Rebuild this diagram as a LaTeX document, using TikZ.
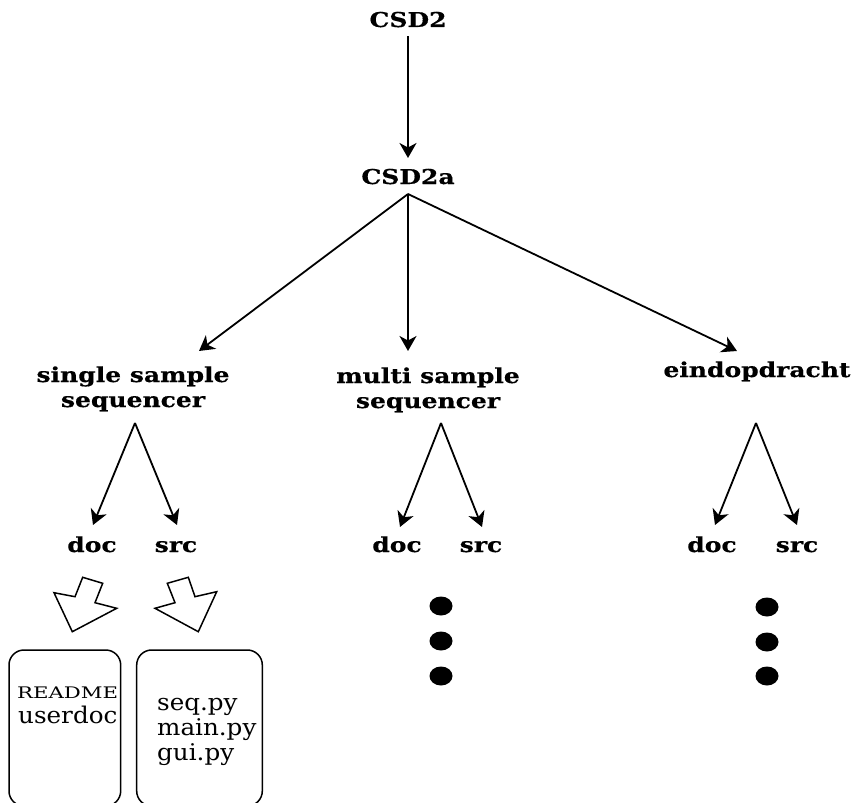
\documentclass[tikz,border=0pt]{standalone}
\usepackage{fontspec}
\usepackage{graphicx}
\setmainfont{DejaVu Serif}
\newfontfamily\lblfont{DejaVu Serif}[FakeStretch=1.22,FakeBold=0.5]
\newfontfamily\filefont{DejaVu Serif}[FakeStretch=1.07]
\usetikzlibrary{arrows.meta}
\begin{document}
\begin{tikzpicture}[x=1pt,y=-1pt,
  arr/.style={line width=1.8pt,-{Stealth[length=15pt,width=17pt,inset=4.5pt]}},
  lbl/.style={font=\lblfont\fontsize{20.5}{25}\selectfont\bfseries, inner sep=0pt, anchor=base, align=center},
  file/.style={font=\filefont\fontsize{23}{25}\selectfont, inner sep=0pt, anchor=base west, align=left},
  box/.style={draw, line width=1.5pt, rounded corners=15pt},
  blk/.style={draw, line width=1.5pt, line join=miter},
  blob/.style={fill=black}]
\clip (0,0) rectangle (855,803);
% labels
\node[lbl] (csd2) at (408,27) {CSD2};
\node[lbl] (csd2a) at (408,184) {CSD2a};
\node[lbl] (ss) at (133,407) {single sample\\sequencer};
\node[lbl] (ms) at (428,408) {multi sample\\sequencer};
\node[lbl] (ein) at (757,377) {eindopdracht};
\node[lbl] (ssdoc) at (92,552) {doc};
\node[lbl] (sssrc) at (176,552) {src};
\node[lbl] (msdoc) at (397,552) {doc};
\node[lbl] (mssrc) at (481,552) {src};
\node[lbl] (eindoc) at (712,552) {doc};
\node[lbl] (einsrc) at (797,552) {src};
% connector end points
\coordinate (csd2out) at (408,36);
\coordinate (csd2ain) at (408,158);
\coordinate (csd2aout) at (408,194);
\coordinate (ssin) at (199,351);
\coordinate (msin) at (408,351);
\coordinate (einin) at (737,351);
\coordinate (ssout) at (135,423);
\coordinate (ssdocin) at (93,525);
\coordinate (sssrcin) at (177,525);
\coordinate (msout) at (441,423);
\coordinate (msdocin) at (400,527);
\coordinate (mssrcin) at (482,527);
\coordinate (einout) at (756,423);
\coordinate (eindocin) at (715,525);
\coordinate (einsrcin) at (797,525);
% connectors
\draw[arr] (csd2out) -- (csd2ain);
\draw[arr] (csd2aout) -- (ssin);
\draw[arr] (csd2aout) -- (msin);
\draw[arr] (csd2aout) -- (einin);
\draw[arr] (ssout) -- (ssdocin);
\draw[arr] (ssout) -- (sssrcin);
\draw[arr] (msout) -- (msdocin);
\draw[arr] (msout) -- (mssrcin);
\draw[arr] (einout) -- (eindocin);
\draw[arr] (einout) -- (einsrcin);
% block arrows
\draw[blk] (54,592.7) -- (75,596.7) -- (82.7,577.3) -- (102.7,583.3) -- (95,602.7) -- (116.7,608.3) -- (72.3,631.7) -- cycle;
\draw[blk] (167.3,583.3) -- (188.3,577.3) -- (195,596.7) -- (216.7,591.7) -- (198.3,631.7) -- (155,608.3) -- (175,602.7) -- cycle;
% boxes
\draw[box] (9,650) rectangle (120.7,806);
\draw[box] (136.7,650) rectangle (262.3,806);
\node[file] (readme) at (17,698) {\resizebox{101pt}{11.6pt}{README}};
\node[file] (userdoc) at (18,723) {userdoc};
\node[file] (srcfiles) at (157,760) {seq.py\\main.py\\gui.py};
% dots
\fill[blob] (441,606) ellipse [x radius=11.5pt, y radius=9.5pt];
\fill[blob] (441,641) ellipse [x radius=11.5pt, y radius=9.5pt];
\fill[blob] (441,676) ellipse [x radius=11.5pt, y radius=9.5pt];
\fill[blob] (767,607) ellipse [x radius=11.5pt, y radius=9.5pt];
\fill[blob] (767,642) ellipse [x radius=11.5pt, y radius=9.5pt];
\fill[blob] (767,676) ellipse [x radius=11.5pt, y radius=9.5pt];
\end{tikzpicture}
\end{document}
